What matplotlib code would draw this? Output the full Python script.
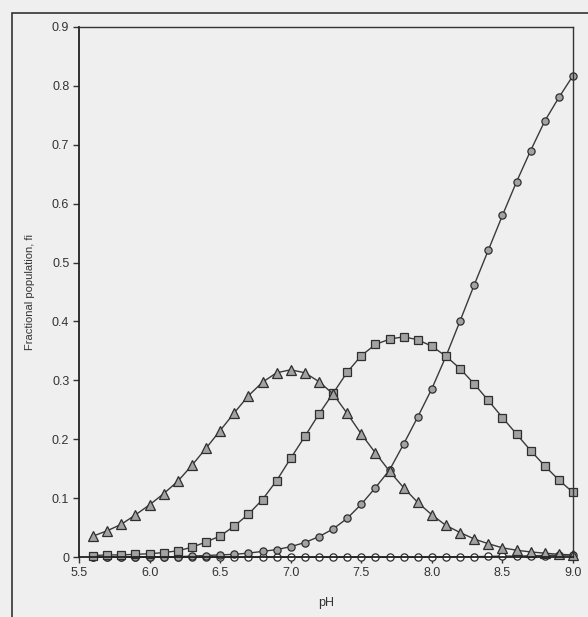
import matplotlib
matplotlib.use('Agg')
import numpy as np
import matplotlib.pyplot as plt
from matplotlib.patches import Rectangle

plt.rcParams['font.family'] = ['Liberation Sans', 'DejaVu Sans']

# pH grid, 5.6 .. 9.0
ph = [5.6, 5.7, 5.8, 5.9, 6.0, 6.1, 6.2, 6.3, 6.4, 6.5,
      6.6, 6.7, 6.8, 6.9, 7.0, 7.1, 7.2, 7.3, 7.4, 7.5,
      7.6, 7.7, 7.8, 7.9, 8.0, 8.1, 8.2, 8.3, 8.4, 8.5,
      8.6, 8.7, 8.8, 8.9, 9.0]

# triangles
f_tri = [0.036, 0.045, 0.056, 0.072, 0.089, 0.108, 0.129, 0.156, 0.185, 0.215,
         0.245, 0.274, 0.297, 0.313, 0.318, 0.313, 0.298, 0.277, 0.244, 0.209,
         0.177, 0.146, 0.118, 0.093, 0.072, 0.054, 0.042, 0.031, 0.023, 0.016,
         0.012, 0.009, 0.007, 0.005, 0.004]

# squares
f_sq = [0.003, 0.004, 0.004, 0.005, 0.006, 0.008, 0.011, 0.017, 0.026, 0.036,
        0.053, 0.073, 0.098, 0.130, 0.168, 0.205, 0.243, 0.278, 0.314, 0.342,
        0.361, 0.370, 0.374, 0.369, 0.358, 0.341, 0.320, 0.294, 0.266, 0.237,
        0.209, 0.181, 0.155, 0.131, 0.110]

# filled circles
f_circ = [0.0, 0.0, 0.0, 0.0005, 0.0005, 0.001, 0.001, 0.002, 0.003, 0.004,
          0.005, 0.007, 0.010, 0.013, 0.018, 0.025, 0.035, 0.048, 0.066, 0.090,
          0.118, 0.148, 0.192, 0.238, 0.286, 0.341, 0.401, 0.462, 0.521, 0.580,
          0.637, 0.690, 0.740, 0.780, 0.817]

# open circles
f_open = [0.0, 0.0, 0.0, 0.0, 0.0, 0.0, 0.0, 0.0, 0.0, 0.0,
          0.0, 0.0, 0.0, 0.0, 0.0, 0.0, 0.0, 0.0, 0.0, 0.0,
          0.0, 0.0, 0.0, 0.0, 0.0005, 0.0005, 0.001, 0.001, 0.0015, 0.002,
          0.002, 0.0025, 0.003, 0.0035, 0.004]

bg = '#efefef'
line_c = '#3a3a3a'
edge_c = '#2e2e2e'
fill_c = '#a2a2a2'

fig = plt.figure(figsize=(5.88, 6.17), dpi=100, facecolor=bg)
ax = fig.add_axes([0.1344, 0.0968, 0.8401, 0.8599])
ax.set_facecolor(bg)

# outer frame of the chart object
fig.patches.append(Rectangle((12/588, -0.1), 1.0, (617-13)/617 + 0.1,
                             transform=fig.transFigure, fill=False,
                             edgecolor='#333333', linewidth=1.2))

kw = dict(color=line_c, linewidth=1.0, markeredgecolor=edge_c,
          markeredgewidth=0.9, clip_on=False)
ax.plot(ph, f_open, marker='o', markersize=5.2, markerfacecolor='white', **kw)
ax.plot(ph, f_circ, marker='o', markersize=5.2, markerfacecolor=fill_c, **kw)
ax.plot(ph, f_sq, marker='s', markersize=5.6, markerfacecolor=fill_c, **kw)
ax.plot(ph, f_tri, marker='^', markersize=7.4, markerfacecolor=fill_c, **kw)

ax.set_xlim(5.5, 9.0)
ax.set_ylim(0, 0.9)
ax.set_xticks([5.5, 6.0, 6.5, 7.0, 7.5, 8.0, 8.5, 9.0])
ax.set_xticklabels(['5.5', '6.0', '6.5', '7.0', '7.5', '8.0', '8.5', '9.0'])
ax.set_yticks([0, 0.1, 0.2, 0.3, 0.4, 0.5, 0.6, 0.7, 0.8, 0.9])
ax.set_yticklabels(['0', '0.1', '0.2', '0.3', '0.4', '0.5', '0.6', '0.7', '0.8', '0.9'])
ax.tick_params(direction='out', length=4, width=1, colors='#333333',
               labelsize=9, labelcolor='#333333', pad=3)
for s in ['left', 'bottom']:
    ax.spines[s].set_linewidth(1.3)
    ax.spines[s].set_color('#222222')
for s in ['top', 'right']:
    ax.spines[s].set_linewidth(1.0)
    ax.spines[s].set_color('#333333')

ax.set_xlabel('pH', fontsize=9, color='#333333', labelpad=13)
ax.set_ylabel('Fractional population, fi', fontsize=8, color='#333333', labelpad=12)

plt.savefig('out.png', dpi=100, facecolor=bg)
